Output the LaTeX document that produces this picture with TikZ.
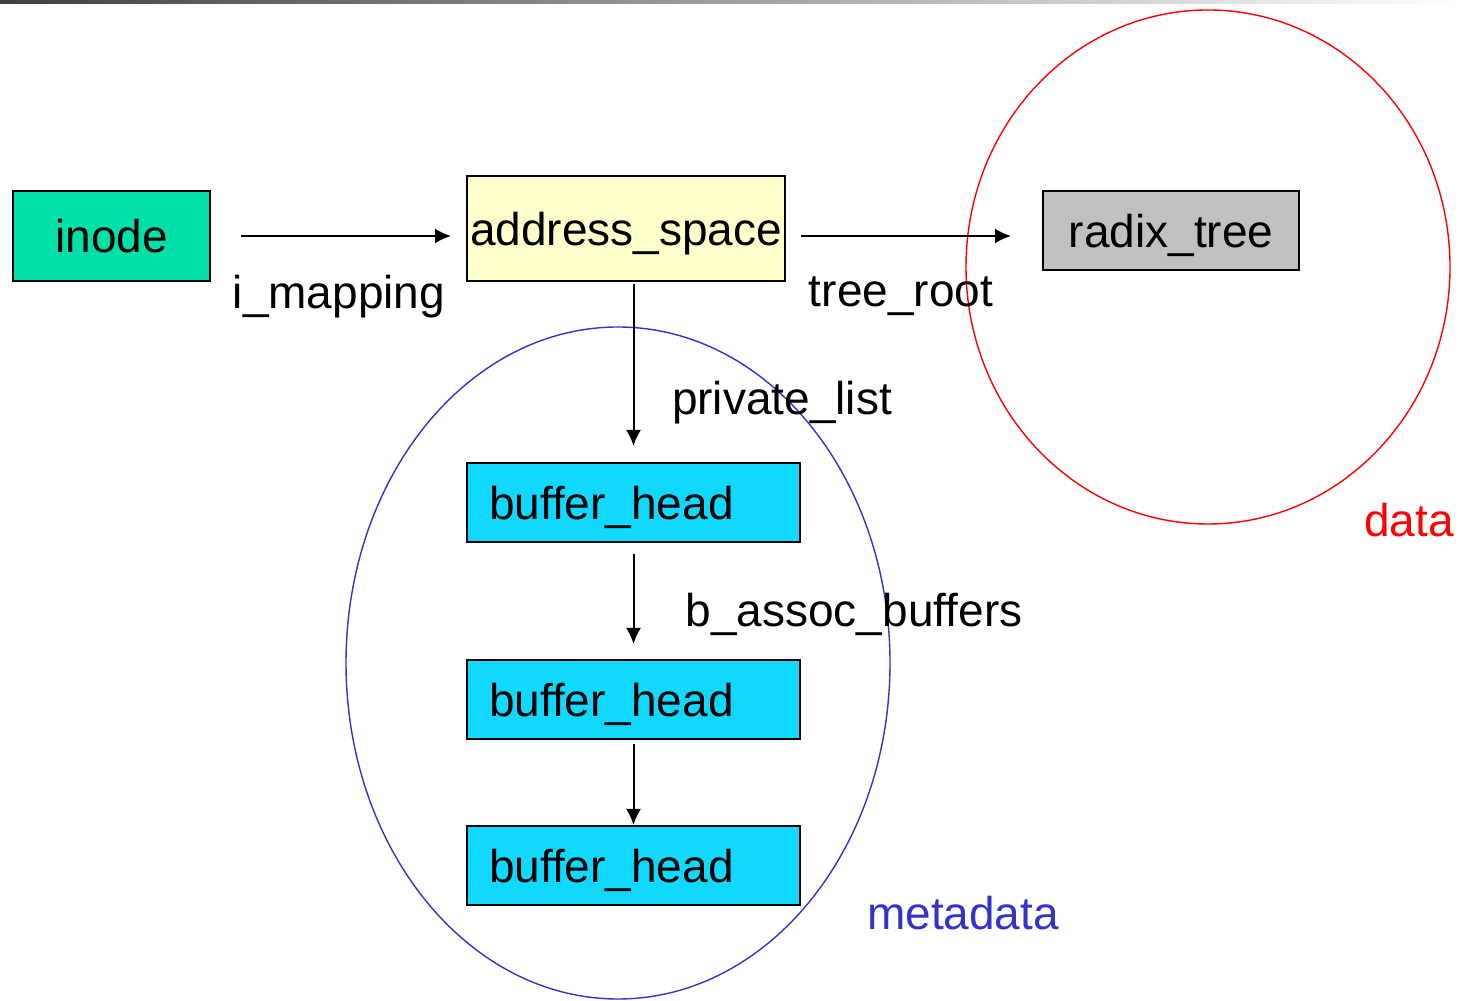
\documentclass[tikz,border=0pt]{standalone}
\usepackage{fontspec}
\setmainfont{Liberation Sans}
\usepackage{xcolor}
\usepackage{tikz}
\usetikzlibrary{arrows.meta}

\definecolor{inodegreen}{HTML}{00E0A8}
\definecolor{spaceyellow}{HTML}{FFFFCC}
\definecolor{treegray}{HTML}{C0C0C0}
\definecolor{bhcyan}{HTML}{10D8FF}
\definecolor{metablue}{HTML}{3333CC}

\begin{document}
\begin{tikzpicture}[x=0.5pt, y=0.5pt,
  font=\fontsize{23}{27}\selectfont,
  box/.style={draw, line width=1pt, inner sep=0pt, text depth=0pt},
  bhbox/.style={box, fill=bhcyan, text width=144.5pt, inner xsep=11pt,
    minimum height=39.5pt, align=left},
  link/.style={line width=1pt, -{Latex[length=8pt, width=7.5pt]}}]
  \useasboundingbox (0,0) rectangle (1459,1000);
  \shade[left color=black!75, right color=white] (0,996) rectangle (1459,1000);

  \draw[red, line width=0.7pt] (1208,733) ellipse [x radius=242, y radius=257];
  \draw[metablue, line width=0.7pt] (618,337) ellipse [x radius=272, y radius=336];

  \node[box, fill=inodegreen, minimum width=98.5pt, minimum height=45pt] (inode) at (111.5,764) {inode};
  \node[box, fill=spaceyellow, minimum width=159pt, minimum height=52.5pt] (space) at (626,771.5) {address\_space};
  \node[box, fill=treegray, minimum width=128pt, minimum height=39.5pt] (tree) at (1171,769.5) {radix\_tree};

  \node[bhbox] (bh1) at (633.5,497.5) {buffer\_head};
  \node[bhbox] (bh2) at (633.5,300.5) {buffer\_head};
  \node[bhbox] (bh3) at (633.5,134.5) {buffer\_head};

  \draw[link, shorten <=15pt, shorten >=7.5pt] (inode.east) -- (inode.east -| space.west);
  \draw[link, shorten <=7.5pt, shorten >=15.5pt] (space.east |- inode.east) -- (inode.east -| tree.west);
  \draw[link, shorten <=1pt, shorten >=8pt] (space.south -| bh1.north) -- (bh1.north);
  \draw[link, shorten <=5.5pt, shorten >=7.5pt] (bh1.south) -- (bh2.north);
  \draw[link, shorten <=2pt] (bh2.south) -- (bh3.north);

  \node (imap) at (339,703) {i\_mapping};
  \node (root) at (901,704) {tree\_root};
  \node (priv) at (782,597) {private\_list};
  \node (assoc) at (854,386) {b\_assoc\_buffers};

  \node[red] (data) at (1409,480) {data};
  \node[metablue] (meta) at (963,87) {metadata};
\end{tikzpicture}
\end{document}
